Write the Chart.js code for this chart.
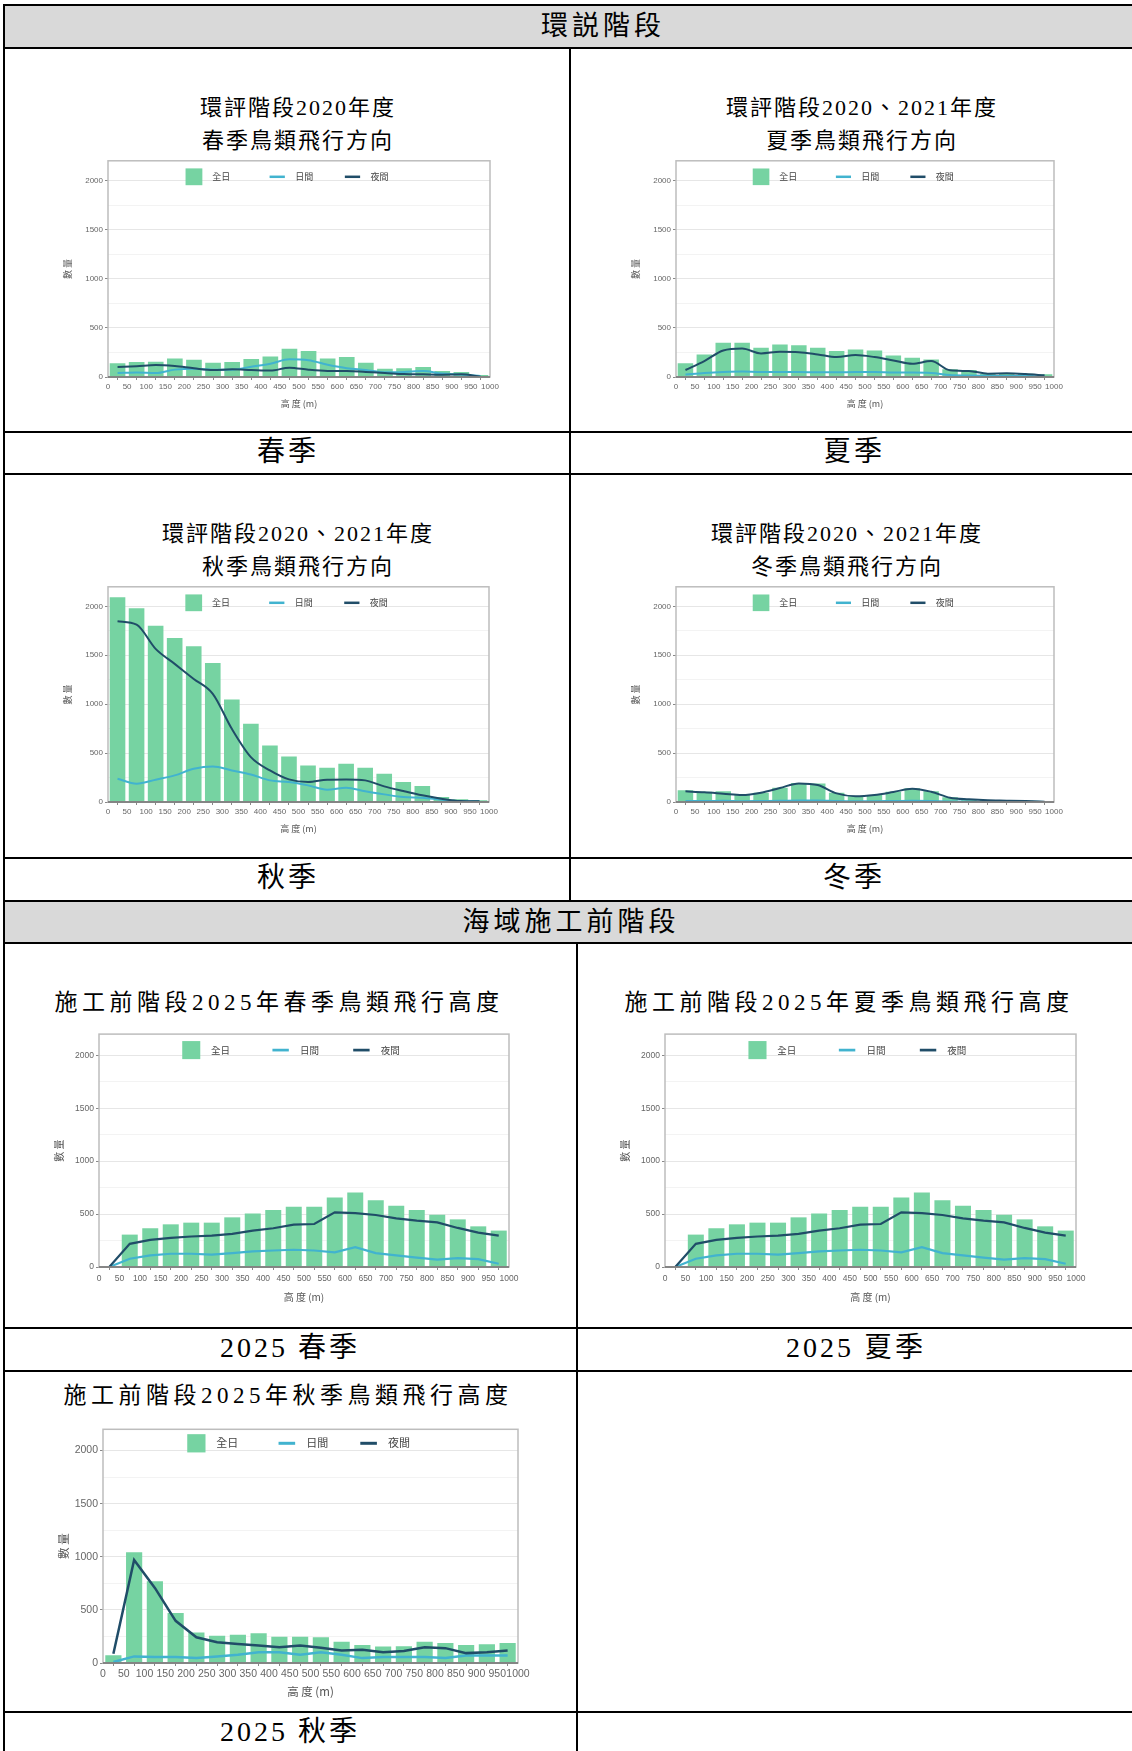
<!DOCTYPE html>
<html>
<head>
<meta charset="utf-8">
<script src="https://cdn.jsdelivr.net/npm/chart.js@4/dist/chart.umd.min.js"></script>
<style>
  html, body { margin: 0; padding: 0; background: #fff; }
  body { width: 1132px; height: 1751px; overflow: hidden; position: relative;
         font-family: 'Liberation Serif', 'Noto Sans CJK TC', serif; color: #000; }
  .hl { position: absolute; left: 3px; width: 1145px; height: 2px; background: #000; }
  .vl { position: absolute; width: 2px; background: #000; }
  .band { position: absolute; left: 4px; width: 1140px; background: #d9d9d9; }
  .txt { position: absolute; width: 640px; text-align: center; white-space: nowrap; }
  .head { font-size: 27px; letter-spacing: 4px; line-height: 42px; }
  .lab { font-size: 28px; letter-spacing: 3px; line-height: 42px; }
  .t2 { font-size: 22px; letter-spacing: 2px; line-height: 33px; }
  .t1 { font-size: 23px; letter-spacing: 4.5px; line-height: 30px; }
  .box { position: absolute; }
  canvas { display: block; }
</style>
</head>
<body>

<!-- gray header bands -->
<div class="band" style="top:5px;height:42px"></div>
<div class="band" style="top:901px;height:41px"></div>

<!-- table rules -->
<div class="hl" style="top:4px"></div>
<div class="hl" style="top:47px"></div>
<div class="hl" style="top:431px"></div>
<div class="hl" style="top:473px"></div>
<div class="hl" style="top:857px"></div>
<div class="hl" style="top:900px"></div>
<div class="hl" style="top:942px"></div>
<div class="hl" style="top:1327px"></div>
<div class="hl" style="top:1370px"></div>
<div class="hl" style="top:1711px"></div>
<div class="vl" style="left:3px;top:4px;height:1760px"></div>
<div class="vl" style="left:569px;top:47px;height:853px"></div>
<div class="vl" style="left:576px;top:942px;height:820px"></div>

<!-- headers and season labels -->
<div class="txt head" style="left:283px;top:5px">環説階段</div>
<div class="txt head" style="left:251px;top:901px">海域施工前階段</div>
<div class="txt lab" style="left:-32px;top:431px">春季</div>
<div class="txt lab" style="left:534px;top:431px">夏季</div>
<div class="txt lab" style="left:-32px;top:857px">秋季</div>
<div class="txt lab" style="left:534px;top:857px">冬季</div>
<div class="txt lab" style="left:-30px;top:1327px">2025 春季</div>
<div class="txt lab" style="left:536px;top:1327px">2025 夏季</div>
<div class="txt lab" style="left:-30px;top:1711px">2025 秋季</div>

<!-- chart titles -->
<div class="txt t2" style="left:-22px;top:91px">環評階段2020年度<br>春季鳥類飛行方向</div>
<div class="txt t2" style="left:542px;top:91px">環評階段2020、2021年度<br>夏季鳥類飛行方向</div>
<div class="txt t2" style="left:-22px;top:517px">環評階段2020、2021年度<br>秋季鳥類飛行方向</div>
<div class="txt t2" style="left:527px;top:517px">環評階段2020、2021年度<br>冬季鳥類飛行方向</div>
<div class="txt t1" style="left:-41px;top:988px">施工前階段2025年春季鳥類飛行高度</div>
<div class="txt t1" style="left:529px;top:988px">施工前階段2025年夏季鳥類飛行高度</div>
<div class="txt t1" style="left:-32px;top:1381px">施工前階段2025年秋季鳥類飛行高度</div>

<div id="charts"></div>

<script>
// ---- data: altitude bins (bin centres, m) ----
const bins = [25, 75, 125, 175, 225, 275, 325, 375, 425, 475, 525, 575, 625, 675, 725, 775, 825, 875, 925, 975];
const xTicks = [0, 50, 100, 150, 200, 250, 300, 350, 400, 450, 500, 550, 600, 650, 700, 750, 800, 850, 900, 950, 1000];
const yTicks = [0, 250, 500, 750, 1000, 1250, 1500, 1750, 2000];
const legendLabels = ['全日', '日間', '夜間'];
const yTitle = '數 量';
const xTitle = '高 度 (m)';

// 環評 2020 spring
const spring2020All   = [139, 152, 155, 189, 176, 145, 152, 182, 209, 287, 264, 189, 203, 145, 84, 88, 101, 61, 51, 20];
const spring2020Day   = [40, 45, 40, 75, 85, 75, 75, 105, 135, 180, 170, 125, 90, 72, 48, 52, 60, 35, 25, 10];
const spring2020Night = [101, 110, 122, 111, 88, 70, 78, 71, 65, 95, 74, 62, 61, 51, 41, 30, 27, 24, 27, 3];

// 環評 2020-2021 summer
const summer2020All   = [139, 230, 348, 348, 297, 331, 324, 297, 264, 280, 270, 220, 196, 179, 78, 71, 34, 34, 34, 27];
const summer2020Day   = [25, 40, 50, 55, 50, 50, 50, 48, 48, 50, 50, 45, 45, 40, 20, 15, 12, 10, 10, 8];
const summer2020Night = [71, 162, 270, 290, 240, 257, 253, 230, 203, 223, 203, 169, 135, 162, 68, 61, 34, 37, 30, 17];

// 環評 2020-2021 autumn
const autumn2020All   = [2092, 1980, 1803, 1677, 1592, 1422, 1048, 799, 578, 466, 374, 350, 391, 350, 289, 204, 163, 51, 27, 17];
const autumn2020Day   = [238, 187, 228, 272, 340, 364, 323, 282, 221, 204, 170, 126, 146, 109, 78, 51, 44, 24, 10, 7];
const autumn2020Night = [1847, 1813, 1565, 1412, 1258, 1105, 748, 459, 323, 231, 204, 228, 231, 221, 160, 112, 68, 34, 10, 7];

// 環評 2020-2021 winter
const winter2020All   = [120, 105, 110, 75, 95, 145, 195, 190, 95, 60, 72, 105, 140, 110, 48, 30, 20, 15, 12, 6];
const winter2020Day   = [10, 10, 12, 8, 10, 12, 15, 15, 10, 8, 8, 10, 12, 10, 6, 4, 3, 2, 2, 1];
const winter2020Night = [109, 99, 85, 71, 95, 143, 190, 173, 88, 58, 71, 102, 136, 105, 44, 27, 17, 14, 10, 3];

// 施工前 2025 spring
const spring2025All   = [0, 306, 366, 403, 419, 419, 469, 506, 538, 569, 569, 656, 703, 631, 578, 538, 494, 450, 384, 344];
const spring2025Day   = [0, 78, 109, 125, 125, 116, 131, 147, 156, 163, 156, 138, 188, 131, 109, 88, 69, 84, 75, 31];
const spring2025Night = [0, 219, 256, 275, 288, 297, 313, 344, 366, 400, 406, 516, 509, 491, 459, 438, 422, 369, 325, 297];

// 施工前 2025 summer
const summer2025All   = [0, 306, 366, 403, 419, 419, 469, 506, 538, 569, 569, 656, 703, 631, 578, 538, 494, 450, 384, 344];
const summer2025Day   = [0, 78, 109, 125, 125, 116, 131, 147, 156, 163, 156, 138, 188, 131, 109, 88, 69, 84, 75, 31];
const summer2025Night = [0, 219, 256, 275, 288, 297, 313, 344, 366, 400, 406, 516, 509, 491, 459, 438, 422, 369, 325, 297];

// 施工前 2025 autumn
const autumn2025All   = [74, 1042, 769, 471, 288, 257, 267, 279, 248, 248, 242, 201, 170, 155, 158, 201, 189, 170, 177, 189];
const autumn2025Day   = [9, 62, 56, 56, 46, 62, 77, 102, 102, 77, 102, 77, 46, 56, 56, 56, 46, 71, 71, 71];
const autumn2025Night = [87, 970, 707, 397, 242, 195, 180, 164, 149, 164, 143, 118, 124, 102, 112, 149, 140, 93, 102, 118];

const colAll = '#76d3a2';
const colDay = '#41b3cf';
const colNight = '#204d68';

// legend drawn inside the panel, like the ggplot originals
const legendInside = {
  id: 'legendInside',
  afterDatasetsDraw(chart, args, o) {
    const { ctx, chartArea: a } = chart;
    const w = a.right - a.left;
    const cy = a.top + o.dy;
    const s = w * 0.044;
    ctx.save();
    ctx.font = o.font + "px 'Noto Sans CJK TC', sans-serif";
    ctx.textBaseline = 'middle';
    let x = a.left + w * 0.203;
    ctx.fillStyle = colAll;
    ctx.fillRect(x, cy - s / 2, s, s);
    ctx.fillStyle = '#444';
    ctx.fillText(legendLabels[0], x + w * 0.07, cy);
    [[0.423, colDay, legendLabels[1]], [0.62, colNight, legendLabels[2]]].forEach(([f, c, t]) => {
      const lx = a.left + w * f;
      ctx.strokeStyle = c;
      ctx.lineWidth = o.lw;
      ctx.beginPath();
      ctx.moveTo(lx, cy);
      ctx.lineTo(lx + w * 0.04, cy);
      ctx.stroke();
      ctx.fillStyle = '#444';
      ctx.fillText(t, lx + w * 0.067, cy);
    });
    ctx.restore();
  }
};

// grey panel border, darker bottom axis line
const panelBorder = {
  id: 'panelBorder',
  afterDraw(chart) {
    const { ctx, chartArea: a } = chart;
    ctx.save();
    ctx.strokeStyle = '#bdbdbd';
    ctx.lineWidth = 1.5;
    ctx.strokeRect(a.left, a.top, a.right - a.left, a.bottom - a.top);
    ctx.strokeStyle = '#6f6f6f';
    ctx.beginPath();
    ctx.moveTo(a.left, a.bottom);
    ctx.lineTo(a.right, a.bottom);
    ctx.stroke();
    ctx.restore();
  }
};

function pts(vals) {
  return vals.map((v, i) => ({ x: bins[i], y: v }));
}

function makeChart(box, all, day, night, look) {
  const yW = 50, padTop = 6, padRight = 14;
  const W = yW + (box.R - box.L) + padRight;
  const H = padTop + (box.B - box.T) + look.xH;
  const div = document.createElement('div');
  div.className = 'box';
  div.style.left = (box.L - yW) + 'px';
  div.style.top = (box.T - padTop) + 'px';
  div.style.width = W + 'px';
  div.style.height = H + 'px';
  const cv = document.createElement('canvas');
  cv.width = W; cv.height = H;
  cv.style.width = W + 'px'; cv.style.height = H + 'px';
  div.appendChild(cv);
  document.getElementById('charts').appendChild(div);

  const lineBase = {
    type: 'line', pointRadius: 0, borderWidth: look.lw, fill: false,
    tension: look.smooth ? 0.4 : 0,
    cubicInterpolationMode: look.smooth ? 'monotone' : 'default'
  };
  const tickFont = { family: "'Liberation Sans Narrow', 'Liberation Sans', Arial, sans-serif", size: look.tick };
  const titleFont = { family: "'Noto Sans CJK TC', sans-serif", size: look.title };

  new Chart(cv, {
    type: 'bar',
    data: {
      datasets: [
        { ...lineBase, label: legendLabels[2], data: pts(night), borderColor: colNight, order: 1 },
        { ...lineBase, label: legendLabels[1], data: pts(day), borderColor: colDay, order: 2 },
        { type: 'bar', label: legendLabels[0], data: pts(all), backgroundColor: colAll,
          barPercentage: look.bar, categoryPercentage: 1, order: 3 }
      ]
    },
    options: {
      responsive: false,
      animation: false,
      layout: { padding: { top: padTop, right: padRight, left: 0, bottom: 0 } },
      plugins: { legend: { display: false }, tooltip: { enabled: false }, legendInside: { dy: look.dy, font: look.leg, lw: look.lw + 0.5 } },
      scales: {
        x: {
          type: 'linear', min: 0, max: 1000, offset: false,
          afterBuildTicks(s) { s.ticks = xTicks.map(v => ({ value: v })); },
          afterFit(s) { s.height = look.xH; },
          border: { display: false },
          grid: { drawOnChartArea: false, drawTicks: true, tickLength: 3, tickColor: '#888' },
          ticks: { autoSkip: false, maxRotation: 0, minRotation: 0, padding: look.tpad,
                   color: '#666', font: tickFont, callback: v => String(v) },
          title: { display: true, text: xTitle, color: '#555', font: titleFont, padding: { top: 0, bottom: look.xtp } }
        },
        y: {
          type: 'linear', min: 0, max: 2200,
          afterBuildTicks(s) { s.ticks = yTicks.map(v => ({ value: v })); },
          afterFit(s) { s.width = yW; },
          border: { display: false },
          grid: {
            drawTicks: true, tickLength: 3,
            color: c => (c.tick && c.tick.value % 500 === 0) ? '#e6e6e6' : '#f3f3f3',
            tickColor: c => (c.tick && c.tick.value % 500 === 0) ? '#888' : 'rgba(0,0,0,0)'
          },
          ticks: { autoSkip: false, padding: 2, color: '#666', font: tickFont,
                   callback: v => (v % 500 === 0 ? String(v) : '') },
          title: { display: true, text: yTitle, color: '#555', font: titleFont, padding: { top: look.ytp, bottom: 0 } }
        }
      }
    },
    plugins: [legendInside, panelBorder]
  });
}

const smallLook = { xH: 36, tick: 8, title: 9, leg: 9, dy: 16, lw: 2, bar: 0.82, smooth: true, tpad: 2, xtp: 4, ytp: 4 };
const midLook   = { xH: 42, tick: 8.5, title: 10, leg: 9.5, dy: 16, lw: 2.2, bar: 0.78, smooth: false, tpad: 4, xtp: 6, ytp: 4 };
const bigLook   = { xH: 40, tick: 10.5, title: 11.5, leg: 11, dy: 14, lw: 2.5, bar: 0.78, smooth: false, tpad: 2, xtp: 4, ytp: 4 };

makeChart({ L: 108, T: 160, R: 490, B: 377 }, spring2020All, spring2020Day, spring2020Night, smallLook);
makeChart({ L: 676, T: 160, R: 1054, B: 377 }, summer2020All, summer2020Day, summer2020Night, smallLook);
makeChart({ L: 108, T: 586, R: 489, B: 802 }, autumn2020All, autumn2020Day, autumn2020Night, smallLook);
makeChart({ L: 676, T: 586, R: 1054, B: 802 }, winter2020All, winter2020Day, winter2020Night, smallLook);
makeChart({ L: 99, T: 1033, R: 509, B: 1267 }, spring2025All, spring2025Day, spring2025Night, midLook);
makeChart({ L: 665, T: 1033, R: 1076, B: 1267 }, summer2025All, summer2025Day, summer2025Night, midLook);
makeChart({ L: 103, T: 1427, R: 518, B: 1663 }, autumn2025All, autumn2025Day, autumn2025Night, bigLook);
</script>
</body>
</html>
